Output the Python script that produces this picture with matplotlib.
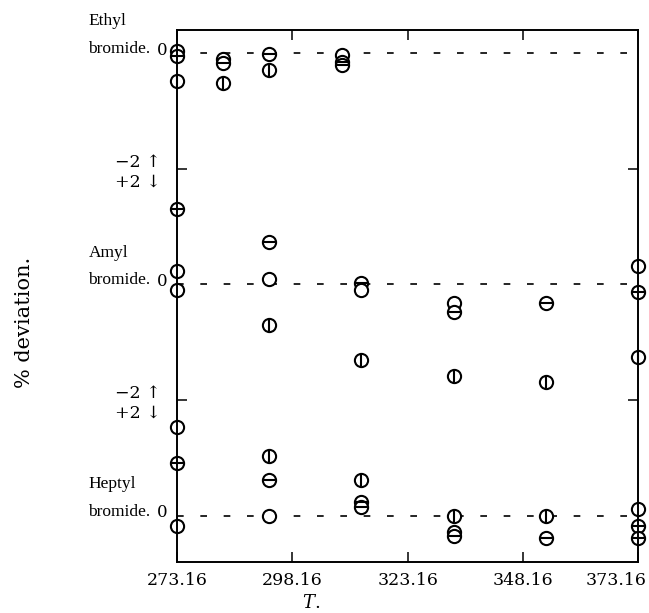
import numpy as np
import matplotlib.pyplot as plt
from matplotlib.transforms import blended_transform_factory, ScaledTranslation

plt.rcParams['font.family'] = ['DejaVu Serif', 'DejaVu Sans']
plt.rcParams['mathtext.fontset'] = 'dejavuserif'

# kind of mark: 'o' plain circle, '|' circle with vertical bar, '-' circle with horizontal bar
ethyl_T = [273.16, 273.16, 273.16, 283.16, 283.16, 283.16, 293.16, 293.16, 308.9, 308.9, 308.9]
ethyl_dev = [0.03, -0.05, -0.49, -0.10, -0.17, -0.52, -0.01, -0.29, -0.03, -0.15, -0.21]
ethyl_kind = ['o', '-', '|', 'o', '-', '|', '-', '|', 'o', '-', '-']

amyl_T = [273.16, 273.16, 273.16, 293.16, 293.16, 293.16, 313.16, 313.16, 313.16,
          333.16, 333.16, 333.16, 353.16, 353.16, 373.16, 373.16, 373.16]
amyl_dev = [1.31, 0.23, -0.10, 0.73, 0.10, -0.71, 0.03, -0.09, -1.31,
            -0.32, -0.48, -1.58, -0.33, -1.69, 0.32, -0.14, -1.25]
amyl_kind = ['-', 'o', 'o', '-', 'o', '|', '-', 'o', '|',
             'o', '-', '|', '-', '|', 'o', '-', '|']

heptyl_T = [273.16, 273.16, 273.16, 293.16, 293.16, 293.16, 313.16, 313.16, 313.16,
            333.16, 333.16, 333.16, 353.16, 353.16, 373.16, 373.16, 373.16]
heptyl_dev = [1.53, 0.91, -0.18, 1.03, 0.61, 0.00, 0.61, 0.24, 0.15,
              0.00, -0.28, -0.35, 0.00, -0.38, 0.11, -0.18, -0.38]
heptyl_kind = ['o', '-', 'o', '|', '-', 'o', '|', '-', '-',
               '|', 'o', '-', '|', '-', 'o', '-', '-']

sections = [
    ('Ethyl', 8, ethyl_T, ethyl_dev, ethyl_kind),
    ('Amyl', 4, amyl_T, amyl_dev, amyl_kind),
    ('Heptyl', 0, heptyl_T, heptyl_dev, heptyl_kind),
]

xticks = [273.16, 298.16, 323.16, 348.16, 373.16]
xtick_labels = ['273.16', '298.16', '323.16', '348.16', '373.16']


def main():
    fig = plt.figure(figsize=(6.49, 6.13), dpi=100)
    ax = fig.add_axes([0.2727, 0.0832, 0.7106, 0.868])
    ax.set_xlim(273.16, 373.16)
    ax.set_ylim(-0.8, 8.4)

    trans = blended_transform_factory(ax.transAxes, ax.transData)
    for name, off, T, dev, kind in sections:
        T = np.array(T)
        y = np.array(dev) + off
        kind = np.array(kind)
        ax.axhline(off, color='black', lw=1.2, dashes=(4, 10), zorder=1)
        ax.plot(T, y, ls='none', marker='o', ms=9.5, mfc='white', mec='black',
                mew=1.5, zorder=3, clip_on=False)
        v = kind == '|'
        ax.plot(T[v], y[v], ls='none', marker='|', ms=8.5, mec='black', mew=1.5,
                zorder=4, clip_on=False)
        h = kind == '-'
        ax.plot(T[h], y[h], ls='none', marker='_', ms=8.5, mec='black', mew=1.5,
                zorder=4, clip_on=False)

        ax.text(-0.02, off + 0.05, '0', transform=trans, ha='right', va='center', fontsize=12)
        ax.text(-0.192, off + 0.55, name, transform=trans, ha='left', va='center',
                fontsize=12.5, family='Liberation Serif')
        ax.text(-0.192, off + 0.07, 'bromide.', transform=trans, ha='left', va='center',
                fontsize=12.5, family='Liberation Serif')

    for s in ax.spines.values():
        s.set_linewidth(1.4)
        s.set_zorder(5)

    ax.set_xticks(xticks)
    ax.set_xticklabels(xtick_labels)
    ax.set_yticks([2, 6])
    ax.set_yticklabels(['\u22122 \u2191\n+2 \u2193', '\u22122 \u2191\n+2 \u2193'])
    ax.tick_params(direction='in', top=True, right=True, length=7, width=1.1,
                   labelsize=12.5, pad=7)
    ax.tick_params(axis='y', pad=12)
    last = ax.get_xticklabels()[-1]
    last.set_transform(last.get_transform() + ScaledTranslation(-0.22, 0, fig.dpi_scale_trans))

    ax.set_ylabel('% deviation.', fontsize=15)
    ax.yaxis.set_label_coords(-0.31, 0.45)
    ax.set_xlabel('$T$.', fontsize=13)
    ax.xaxis.set_label_coords(0.29, -0.06)

    plt.savefig('out.png', dpi=100)


if __name__ == "__main__":
    main()
